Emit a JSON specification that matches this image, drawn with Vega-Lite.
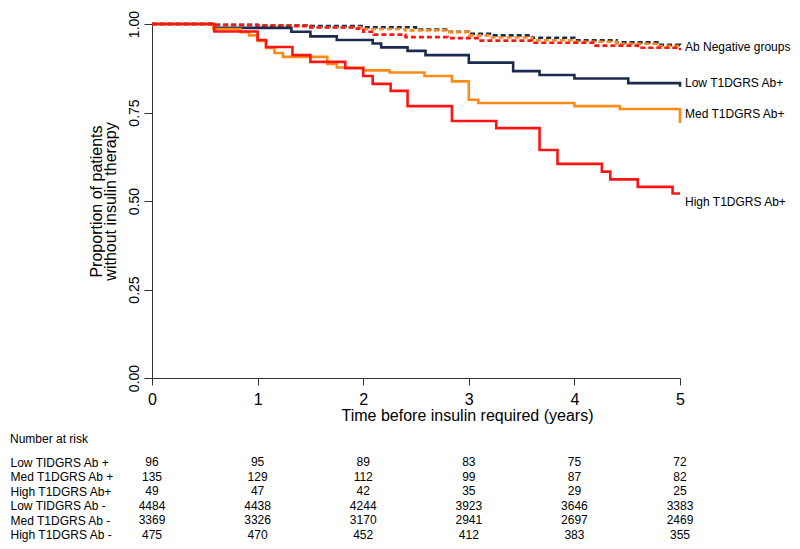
{
  "$schema": "https://vega.github.io/schema/vega-lite/v6.json",
  "padding": {"left": 10, "top": 10, "right": 5, "bottom": 0},
  "background": "white",
  "spacing": 10,
  "config": {"view": {"stroke": null}, "font": "Liberation Sans", "axis": {"grid": false}},
  "datasets": {
    "km": [
      {"g": "Low", "ab": "neg", "t": 0, "s": 1}, {"g": "Low", "ab": "neg", "t": 0.58, "s": 0.998}, {"g": "Low", "ab": "neg", "t": 1.0, "s": 0.996}, {"g": "Low", "ab": "neg", "t": 1.5, "s": 0.994}, {"g": "Low", "ab": "neg", "t": 2.0, "s": 0.991}, {"g": "Low", "ab": "neg", "t": 2.5, "s": 0.984}, {"g": "Low", "ab": "neg", "t": 2.8, "s": 0.978}, {"g": "Low", "ab": "neg", "t": 3.0, "s": 0.972}, {"g": "Low", "ab": "neg", "t": 3.2, "s": 0.968}, {"g": "Low", "ab": "neg", "t": 3.6, "s": 0.961}, {"g": "Low", "ab": "neg", "t": 4.0, "s": 0.954}, {"g": "Low", "ab": "neg", "t": 4.4, "s": 0.948}, {"g": "Low", "ab": "neg", "t": 4.8, "s": 0.941}, {"g": "Low", "ab": "neg", "t": 5.0, "s": 0.938},
      {"g": "Med", "ab": "neg", "t": 0, "s": 1}, {"g": "Med", "ab": "neg", "t": 0.58, "s": 0.997}, {"g": "Med", "ab": "neg", "t": 1.0, "s": 0.995}, {"g": "Med", "ab": "neg", "t": 1.5, "s": 0.991}, {"g": "Med", "ab": "neg", "t": 2.0, "s": 0.986}, {"g": "Med", "ab": "neg", "t": 2.4, "s": 0.982}, {"g": "Med", "ab": "neg", "t": 2.8, "s": 0.977}, {"g": "Med", "ab": "neg", "t": 3.0, "s": 0.968}, {"g": "Med", "ab": "neg", "t": 3.2, "s": 0.962}, {"g": "Med", "ab": "neg", "t": 3.6, "s": 0.954}, {"g": "Med", "ab": "neg", "t": 4.0, "s": 0.95}, {"g": "Med", "ab": "neg", "t": 4.4, "s": 0.944}, {"g": "Med", "ab": "neg", "t": 4.8, "s": 0.938}, {"g": "Med", "ab": "neg", "t": 5.0, "s": 0.935},
      {"g": "High", "ab": "neg", "t": 0, "s": 1}, {"g": "High", "ab": "neg", "t": 0.58, "s": 0.997}, {"g": "High", "ab": "neg", "t": 1.0, "s": 0.994}, {"g": "High", "ab": "neg", "t": 1.5, "s": 0.99}, {"g": "High", "ab": "neg", "t": 1.9, "s": 0.987}, {"g": "High", "ab": "neg", "t": 2.0, "s": 0.978}, {"g": "High", "ab": "neg", "t": 2.1, "s": 0.97}, {"g": "High", "ab": "neg", "t": 2.4, "s": 0.963}, {"g": "High", "ab": "neg", "t": 2.8, "s": 0.96}, {"g": "High", "ab": "neg", "t": 3.1, "s": 0.953}, {"g": "High", "ab": "neg", "t": 3.6, "s": 0.947}, {"g": "High", "ab": "neg", "t": 4.2, "s": 0.939}, {"g": "High", "ab": "neg", "t": 4.6, "s": 0.933}, {"g": "High", "ab": "neg", "t": 5.0, "s": 0.926},
      {"g": "Low", "ab": "pos", "t": 0, "s": 1}, {"g": "Low", "ab": "pos", "t": 0.58, "s": 0.989}, {"g": "Low", "ab": "pos", "t": 1.32, "s": 0.978}, {"g": "Low", "ab": "pos", "t": 1.5, "s": 0.965}, {"g": "Low", "ab": "pos", "t": 1.75, "s": 0.955}, {"g": "Low", "ab": "pos", "t": 2.09, "s": 0.945}, {"g": "Low", "ab": "pos", "t": 2.17, "s": 0.934}, {"g": "Low", "ab": "pos", "t": 2.42, "s": 0.924}, {"g": "Low", "ab": "pos", "t": 2.59, "s": 0.912}, {"g": "Low", "ab": "pos", "t": 3.0, "s": 0.891}, {"g": "Low", "ab": "pos", "t": 3.42, "s": 0.867}, {"g": "Low", "ab": "pos", "t": 3.67, "s": 0.856}, {"g": "Low", "ab": "pos", "t": 4.0, "s": 0.846}, {"g": "Low", "ab": "pos", "t": 4.51, "s": 0.833}, {"g": "Low", "ab": "pos", "t": 5.0, "s": 0.823},
      {"g": "Med", "ab": "pos", "t": 0, "s": 1}, {"g": "Med", "ab": "pos", "t": 0.58, "s": 0.986}, {"g": "Med", "ab": "pos", "t": 0.84, "s": 0.977}, {"g": "Med", "ab": "pos", "t": 0.92, "s": 0.968}, {"g": "Med", "ab": "pos", "t": 1.0, "s": 0.952}, {"g": "Med", "ab": "pos", "t": 1.08, "s": 0.932}, {"g": "Med", "ab": "pos", "t": 1.16, "s": 0.918}, {"g": "Med", "ab": "pos", "t": 1.24, "s": 0.907}, {"g": "Med", "ab": "pos", "t": 1.66, "s": 0.887}, {"g": "Med", "ab": "pos", "t": 1.75, "s": 0.877}, {"g": "Med", "ab": "pos", "t": 2.0, "s": 0.869}, {"g": "Med", "ab": "pos", "t": 2.25, "s": 0.863}, {"g": "Med", "ab": "pos", "t": 2.58, "s": 0.853}, {"g": "Med", "ab": "pos", "t": 2.84, "s": 0.838}, {"g": "Med", "ab": "pos", "t": 3.0, "s": 0.786}, {"g": "Med", "ab": "pos", "t": 3.09, "s": 0.777}, {"g": "Med", "ab": "pos", "t": 4.0, "s": 0.768}, {"g": "Med", "ab": "pos", "t": 4.43, "s": 0.76}, {"g": "Med", "ab": "pos", "t": 5.0, "s": 0.72},
      {"g": "High", "ab": "pos", "t": 0, "s": 1}, {"g": "High", "ab": "pos", "t": 0.59, "s": 0.979}, {"g": "High", "ab": "pos", "t": 1.0, "s": 0.955}, {"g": "High", "ab": "pos", "t": 1.08, "s": 0.935}, {"g": "High", "ab": "pos", "t": 1.33, "s": 0.912}, {"g": "High", "ab": "pos", "t": 1.5, "s": 0.893}, {"g": "High", "ab": "pos", "t": 1.83, "s": 0.875}, {"g": "High", "ab": "pos", "t": 2.0, "s": 0.853}, {"g": "High", "ab": "pos", "t": 2.09, "s": 0.831}, {"g": "High", "ab": "pos", "t": 2.26, "s": 0.811}, {"g": "High", "ab": "pos", "t": 2.42, "s": 0.768}, {"g": "High", "ab": "pos", "t": 2.84, "s": 0.726}, {"g": "High", "ab": "pos", "t": 3.26, "s": 0.706}, {"g": "High", "ab": "pos", "t": 3.67, "s": 0.644}, {"g": "High", "ab": "pos", "t": 3.84, "s": 0.605}, {"g": "High", "ab": "pos", "t": 4.26, "s": 0.583}, {"g": "High", "ab": "pos", "t": 4.34, "s": 0.561}, {"g": "High", "ab": "pos", "t": 4.6, "s": 0.54}, {"g": "High", "ab": "pos", "t": 4.93, "s": 0.521}, {"g": "High", "ab": "pos", "t": 5.0, "s": 0.521}
    ],
    "ends": [
      {"label": "Ab Negative groups", "t": 5, "s": 0.936},
      {"label": "Low T1DGRS Ab+", "t": 5, "s": 0.834},
      {"label": "Med T1DGRS Ab+", "t": 5, "s": 0.746},
      {"label": "High T1DGRS Ab+", "t": 5, "s": 0.497}
    ],
    "risk": [
      {"row": "Low TIDGRS Ab +", "t": 0, "n": 96}, {"row": "Low TIDGRS Ab +", "t": 1, "n": 95}, {"row": "Low TIDGRS Ab +", "t": 2, "n": 89}, {"row": "Low TIDGRS Ab +", "t": 3, "n": 83}, {"row": "Low TIDGRS Ab +", "t": 4, "n": 75}, {"row": "Low TIDGRS Ab +", "t": 5, "n": 72},
      {"row": "Med T1DGRS Ab +", "t": 0, "n": 135}, {"row": "Med T1DGRS Ab +", "t": 1, "n": 129}, {"row": "Med T1DGRS Ab +", "t": 2, "n": 112}, {"row": "Med T1DGRS Ab +", "t": 3, "n": 99}, {"row": "Med T1DGRS Ab +", "t": 4, "n": 87}, {"row": "Med T1DGRS Ab +", "t": 5, "n": 82},
      {"row": "High T1DGRS Ab+", "t": 0, "n": 49}, {"row": "High T1DGRS Ab+", "t": 1, "n": 47}, {"row": "High T1DGRS Ab+", "t": 2, "n": 42}, {"row": "High T1DGRS Ab+", "t": 3, "n": 35}, {"row": "High T1DGRS Ab+", "t": 4, "n": 29}, {"row": "High T1DGRS Ab+", "t": 5, "n": 25},
      {"row": "Low TIDGRS Ab -", "t": 0, "n": 4484}, {"row": "Low TIDGRS Ab -", "t": 1, "n": 4438}, {"row": "Low TIDGRS Ab -", "t": 2, "n": 4244}, {"row": "Low TIDGRS Ab -", "t": 3, "n": 3923}, {"row": "Low TIDGRS Ab -", "t": 4, "n": 3646}, {"row": "Low TIDGRS Ab -", "t": 5, "n": 3383},
      {"row": "Med T1DGRS Ab -", "t": 0, "n": 3369}, {"row": "Med T1DGRS Ab -", "t": 1, "n": 3326}, {"row": "Med T1DGRS Ab -", "t": 2, "n": 3170}, {"row": "Med T1DGRS Ab -", "t": 3, "n": 2941}, {"row": "Med T1DGRS Ab -", "t": 4, "n": 2697}, {"row": "Med T1DGRS Ab -", "t": 5, "n": 2469},
      {"row": "High T1DGRS Ab -", "t": 0, "n": 475}, {"row": "High T1DGRS Ab -", "t": 1, "n": 470}, {"row": "High T1DGRS Ab -", "t": 2, "n": 452}, {"row": "High T1DGRS Ab -", "t": 3, "n": 412}, {"row": "High T1DGRS Ab -", "t": 4, "n": 383}, {"row": "High T1DGRS Ab -", "t": 5, "n": 355}
    ]
  },
  "vconcat": [
    {
      "width": 528,
      "height": 354,
      "layer": [
        {
          "data": {"name": "km"},
          "mark": {"type": "line", "interpolate": "step-after", "strokeWidth": 2.6, "clip": false},
          "encoding": {
            "x": {"field": "t", "type": "quantitative", "scale": {"domain": [0, 5], "nice": false},
              "axis": {"values": [0, 1, 2, 3, 4, 5], "format": "d", "labelFontSize": 16, "labelFlush": false, "tickSize": 7, "labelPadding": 6,
                "domainColor": "#333", "tickColor": "#333", "labelColor": "black", "titleColor": "black",
                "title": "Time before insulin required (years)", "titleFontSize": 16, "titleFontWeight": "normal", "titlePadding": 0, "titleX": 315}},
            "y": {"field": "s", "type": "quantitative", "scale": {"domain": [0, 1], "nice": false},
              "axis": {"values": [0, 0.25, 0.5, 0.75, 1], "format": ".2f", "labelFontSize": 14, "labelAngle": -90, "labelAlign": "center", "labelBaseline": "bottom", "labelFlush": false, "tickSize": 8, "labelPadding": 3,
                "domainColor": "#333", "tickColor": "#333", "labelColor": "black", "titleColor": "black",
                "title": ["Proportion of patients", "without insulin therapy"], "titleFontSize": 16, "titleFontWeight": "normal", "titlePadding": 9, "titleLineHeight": 14}},
            "color": {"field": "g", "type": "nominal", "scale": {"domain": ["Low", "Med", "High"], "range": ["#1c2a4f", "#ff8b17", "#ff1414"]}, "legend": null},
            "strokeDash": {"field": "ab", "type": "nominal", "scale": {"domain": ["neg", "pos"], "range": [[5, 3], [1, 0]]}, "legend": null}
          }
        },
        {
          "data": {"name": "ends"},
          "mark": {"type": "text", "align": "left", "baseline": "middle", "dx": 5, "fontSize": 12, "color": "black"},
          "encoding": {
            "x": {"field": "t", "type": "quantitative"},
            "y": {"field": "s", "type": "quantitative"},
            "text": {"field": "label"}
          }
        }
      ]
    },
    {
      "width": 528,
      "height": 87,
      "title": {"text": "Number at risk", "anchor": "start", "frame": "bounds", "fontSize": 12, "fontWeight": "normal", "color": "black", "offset": 9},
      "data": {"name": "risk"},
      "mark": {"type": "text", "fontSize": 12, "color": "black"},
      "encoding": {
        "x": {"field": "t", "type": "quantitative", "scale": {"domain": [0, 5], "nice": false}, "axis": null},
        "y": {"field": "row", "type": "nominal",
          "sort": ["Low TIDGRS Ab +", "Med T1DGRS Ab +", "High T1DGRS Ab+", "Low TIDGRS Ab -", "Med T1DGRS Ab -", "High T1DGRS Ab -"],
          "scale": {"paddingInner": 0, "paddingOuter": 0},
          "axis": {"domain": false, "ticks": false, "tickSize": 0, "labelAlign": "left", "labelPadding": 142, "labelFontSize": 12, "labelColor": "black", "title": null}},
        "text": {"field": "n", "type": "nominal"}
      }
    }
  ]
}
